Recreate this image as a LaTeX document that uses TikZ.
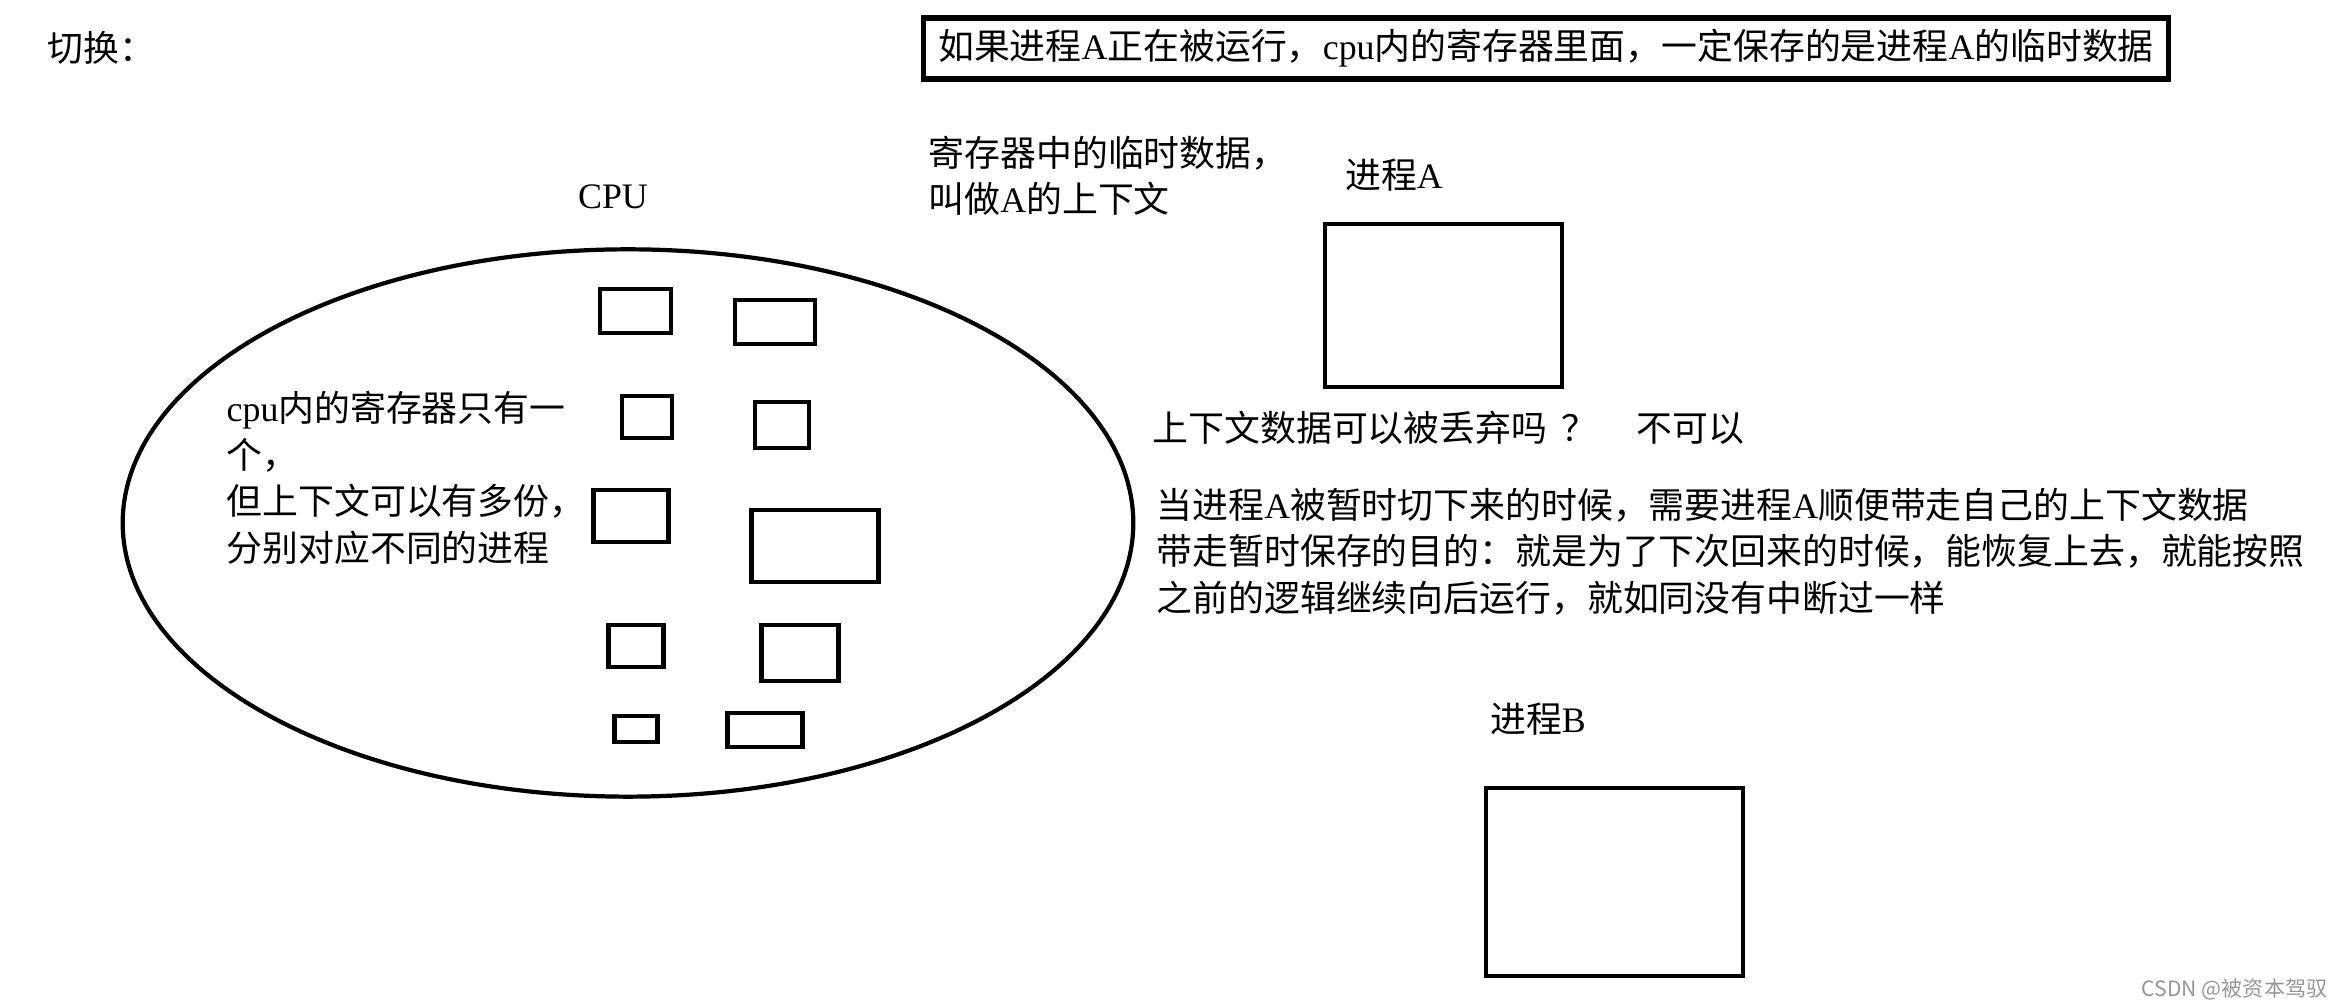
\documentclass[tikz,border=0pt]{standalone}
\usepackage{fontspec}
\usepackage{xcolor}
\usepackage{tikz}
\usetikzlibrary{shapes.geometric,positioning}
\setmainfont{Noto Sans CJK SC}
\newfontfamily\latfont{Liberation Serif}
\definecolor{markgray}{RGB}{150,150,150}

\begin{document}
\begin{tikzpicture}[
    x=0.01cm, y=-0.01cm,
    font=\fontsize{10.2pt}{13.2pt}\selectfont,
    txt/.style={anchor=west, align=left, inner sep=0pt},
    reg/.style={draw, line width=1.2pt, inner sep=0pt},
    proc/.style={draw, line width=1.2pt, inner sep=0pt},
    headbox/.style={draw, line width=1.5pt, inner sep=0pt, minimum width=12.44cm, minimum height=0.61cm}
]
\useasboundingbox (0,0) rectangle (2345,1007);

\node[txt] (title) at (47,48) {切换：};
\node[headbox] (head) at (1546,48.5) {如果进程{\latfont A}正在被运行，{\latfont cpu}内的寄存器里面，一定保存的是进程{\latfont A}的临时数据};
\node[txt] (ctx) at (928,176) {寄存器中的临时数据，\\叫做{\latfont A}的上下文};

\node[anchor=center, inner sep=0pt] (cpulbl) at (613,197) {\latfont CPU};
\node[draw, ellipse, line width=1.2pt, inner sep=0pt, minimum width=10.1cm, minimum height=5.47cm] (cpu) at (628,523) {};
\node[txt] (cpunote) at (226,478) {{\latfont cpu}内的寄存器只有一\\个，\\但上下文可以有多份，\\分别对应不同的进程};

\node[reg, minimum width=0.71cm, minimum height=0.44cm] (r1) at (635.5,311) {};
\node[reg, minimum width=0.80cm, minimum height=0.44cm] (r2) at (775,322) {};
\node[reg, minimum width=0.50cm, minimum height=0.42cm] (r3) at (647,417) {};
\node[reg, minimum width=0.54cm, minimum height=0.46cm] (r4) at (782,425) {};
\node[reg, minimum width=0.75cm, minimum height=0.52cm] (r5) at (631,516) {};
\node[reg, minimum width=1.27cm, minimum height=0.72cm] (r6) at (815,546) {};
\node[reg, minimum width=0.55cm, minimum height=0.42cm] (r7) at (636,646) {};
\node[reg, minimum width=0.77cm, minimum height=0.56cm] (r8) at (800,653) {};
\node[reg, minimum width=0.43cm, minimum height=0.26cm] (r9) at (636,729) {};
\node[reg, minimum width=0.75cm, minimum height=0.34cm] (r10) at (765,730) {};

\node[anchor=center, inner sep=0pt] (plblA) at (1394,175) {进程{\latfont A}};
\node[proc, minimum width=2.37cm, minimum height=1.63cm] (procA) at (1443.5,305.5) {};

\node[txt] (ask) at (1152,428) {上下文数据可以被丢弃吗\hspace{0.4em}？\hspace{1.1em}不可以};
\node[txt] (why) at (1156,551.5) {当进程{\latfont A}被暂时切下来的时候，需要进程{\latfont A}顺便带走自己的上下文数据\\带走暂时保存的目的：就是为了下次回来的时候，能恢复上去，就能按照\\之前的逻辑继续向后运行，就如同没有中断过一样};

\node[anchor=center, inner sep=0pt] (plblB) at (1538,719) {进程{\latfont B}};
\node[proc, minimum width=2.57cm, minimum height=1.88cm] (procB) at (1614.5,882) {};

\node[anchor=east, inner sep=0pt, text=markgray, font=\fontsize{6pt}{7pt}\selectfont] (mark) at (2328,989) {CSDN @被资本驾驭};

\end{tikzpicture}
\end{document}
